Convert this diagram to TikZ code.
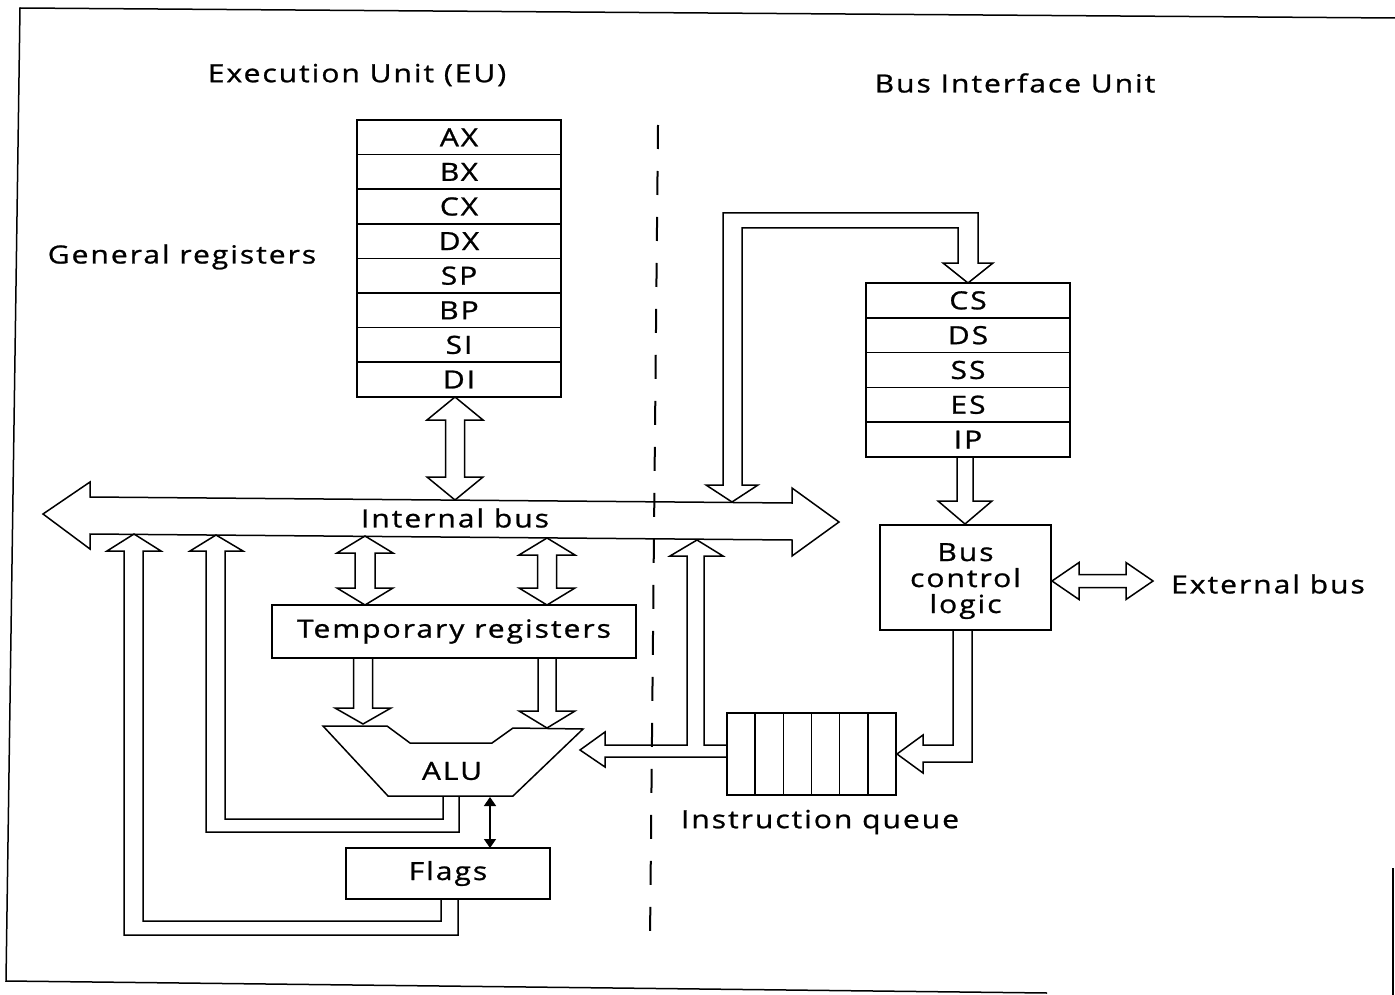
\documentclass[tikz,border=0pt]{standalone}
\usepackage{fontspec}
\setmainfont{Open Sans}[FakeStretch=1.2,LetterSpace=8,FakeBold=1]
\usetikzlibrary{arrows.meta}
\newcommand\VDArr[6]{\draw[blk] (#1,#2) -- ({#1+#5},{#2+#6}) -- ({#1+#4},{#2+#6}) -- ({#1+#4},{#3-#6}) -- ({#1+#5},{#3-#6}) -- (#1,#3) -- ({#1-#5},{#3-#6}) -- ({#1-#4},{#3-#6}) -- ({#1-#4},{#2+#6}) -- ({#1-#5},{#2+#6}) -- cycle;}
\newcommand\DArr[6]{\draw[blk] ({#1-#4},#2) -- ({#1-#4},{#3-#6}) -- ({#1-#5},{#3-#6}) -- (#1,#3) -- ({#1+#5},{#3-#6}) -- ({#1+#4},{#3-#6}) -- ({#1+#4},#2);}
\newcommand\HDArr[6]{\draw[blk] (#1,#3) -- ({#1+#6},{#3-#5}) -- ({#1+#6},{#3-#4}) -- ({#2-#6},{#3-#4}) -- ({#2-#6},{#3-#5}) -- (#2,#3) -- ({#2-#6},{#3+#5}) -- ({#2-#6},{#3+#4}) -- ({#1+#6},{#3+#4}) -- ({#1+#6},{#3+#5}) -- cycle;}
\tikzset{
  txt/.style={font=\fontsize{25}{26}\selectfont, inner sep=0pt, align=center},
  blk/.style={draw, line width=1.5pt, line join=miter},
  regbox/.style={draw, line width=1.5pt, minimum width=204pt, inner sep=0pt, font=\fontsize{25}{26}\selectfont},
  boxx/.style={draw, line width=1.5pt, inner sep=0pt, font=\fontsize{25}{26}\selectfont, align=center},
}
\begin{document}
\begin{tikzpicture}[x=1pt,y=-1pt]
\useasboundingbox (0,0) rectangle (1395,995);
% border
\draw[line width=1.5pt] (1395,18) -- (20,8) -- (6,981) -- (1047,993);
\draw[line width=1.5pt] (1393,868) -- (1393,995);
% titles
\node[txt] (eu) at (357,75) {Execution Unit (EU)};
\node[txt] (biu) at (1015,83) {Bus Interface Unit};
\node[txt] (gr) at (182,257) {General registers};
% divider
\draw[line width=2pt, dash pattern=on 24pt off 22pt] (658,125) -- (650,940);
% general registers
\foreach \r [count=\i from 0] in {AX,BX,CX,DX,SP,BP,SI,DI}
  \node[regbox, minimum height=34.6pt] (\r) at (459,{137.3+34.6*\i}) {\r};
% segment registers
\foreach \r [count=\i from 0] in {CS,DS,SS,ES,IP}
  \node[regbox, minimum height=34.8pt] (\r) at (968,{300.4+34.8*\i}) {\r};
% internal bus
\draw[blk] (43,514) -- (90,482) -- (90,497) -- (792,503) -- (792,488) -- (839,522) -- (792,556) -- (792,540) -- (90,534) -- (90,549) -- cycle;
\node[txt] (ib) at (455,518) {Internal bus};
% registers <-> bus
\VDArr{455}{397}{500}{9.5}{28}{23}
% temporary registers
\node[boxx, minimum width=364pt, minimum height=53pt] (tmp) at (454,631.5) {Temporary registers};
\VDArr{365}{536}{605}{10}{28}{17}
\VDArr{547}{538}{605}{9.5}{28}{17}
\DArr{363}{658}{724}{9.5}{28}{16}
\DArr{547}{658}{728}{9}{28}{17}
% ALU
\draw[blk] (323,726) -- (387,726) -- (410,743) -- (492,743) -- (513,728) -- (583,729) -- (513,796) -- (388,796) -- cycle;
\node[txt] (alu) at (452,771) {ALU};
% flags
\node[boxx, minimum width=204pt, minimum height=51pt] (flags) at (448,873.5) {Flags};
\draw[line width=1.5pt, {Triangle[length=9pt,width=12pt]}-{Triangle[length=9pt,width=12pt]}] (490,797) -- (490,848);
% loops back to the bus
\draw[blk] (443,796) -- (443,819) -- (225,819) -- (225,551) -- (243,551) -- (216,535) -- (190,551) -- (206,551) -- (206,832) -- (459,832) -- (459,796);
\draw[blk] (441,899) -- (441,921) -- (143,921) -- (143,551) -- (161,551) -- (134,534) -- (107,551) -- (124,551) -- (124,935) -- (458,935) -- (458,899);
% bus -> CS
\draw[blk] (723,485) -- (723,213) -- (978,213) -- (978,263) -- (993,263) -- (968,283) -- (943,263) -- (958,263) -- (958,228) -- (742,228) -- (742,485) -- (758,485) -- (732,502) -- (706,485) -- cycle;
% bus control logic
\node[boxx, minimum width=171pt, minimum height=105pt] (bcl) at (965.5,577.5) {};
\node[txt, anchor=base] at (965.5,561) {Bus};
\node[txt, anchor=base] at (965.5,587) {control};
\node[txt, anchor=base] at (965.5,613) {logic};
\DArr{965}{457}{524}{8}{27}{23}
\HDArr{1052}{1153}{581}{6.5}{18.5}{27}
\node[txt] (ext) at (1268,584) {External bus};
% instruction queue
\node[boxx, minimum width=169pt, minimum height=82pt] (q) at (811.5,754) {};
\foreach \k in {1,...,5} \draw[line width=1.5pt] ({727+28.17*\k},713) -- ({727+28.17*\k},795);
\node[txt] (iq) at (820,822) {Instruction queue};
\draw[blk] (953,630) -- (953,745) -- (923,745) -- (923,735) -- (897,754) -- (923,773) -- (923,762) -- (972,762) -- (972,630);
\draw[blk] (727,745) -- (704,745) -- (704,556) -- (723,556) -- (697,540) -- (670,556) -- (687,556) -- (687,745) -- (605,745) -- (605,732) -- (580,750) -- (605,767) -- (605,757) -- (727,757);
\end{tikzpicture}
\end{document}
